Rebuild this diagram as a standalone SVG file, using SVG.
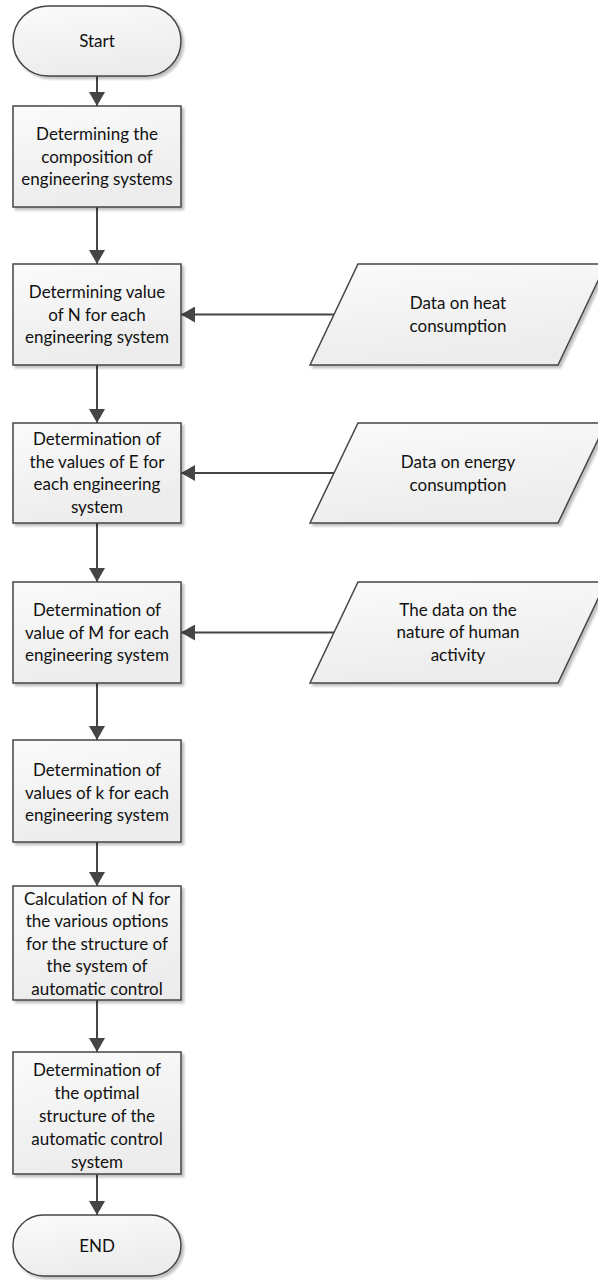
<svg xmlns="http://www.w3.org/2000/svg" width="598" height="1280" viewBox="0 0 598 1280">
<style>
.shape{fill:url(#g);stroke:#454545;stroke-width:1.5;filter:url(#sh)}
.t{font-family:Lato,"Liberation Sans",sans-serif;font-size:17px;fill:#111;text-anchor:middle}
.c{stroke:#454545;stroke-width:2;fill:none;marker-end:url(#arr)}
</style>
<defs>
<linearGradient id="g" x1="0" y1="0" x2="0.3" y2="1">
<stop offset="0" stop-color="#fbfbfb"/>
<stop offset="1" stop-color="#ececec"/>
</linearGradient>
<filter id="sh" x="-10%" y="-10%" width="130%" height="130%">
<feDropShadow dx="2.5" dy="2.5" stdDeviation="1.2" flood-color="#000" flood-opacity="0.25"/>
</filter>
<marker id="arr" viewBox="0 0 14 16" refX="14" refY="8" markerWidth="14" markerHeight="16" orient="auto" markerUnits="userSpaceOnUse">
<path d="M0,0 L14,8 L0,16 Z" fill="#454545"/>
</marker>
</defs>

<g id="connectors">
<path class="c" d="M97,76 V106"/>
<path class="c" d="M97,207 V264"/>
<path class="c" d="M97,365 V423"/>
<path class="c" d="M97,523 V582"/>
<path class="c" d="M97,683 V740"/>
<path class="c" d="M97,842 V886"/>
<path class="c" d="M97,1000 V1052"/>
<path class="c" d="M97,1174 V1215"/>
<path class="c" d="M334,314.5 H181"/>
<path class="c" d="M334,473 H181"/>
<path class="c" d="M334,632.5 H181"/>
</g>

<g id="start">
<rect class="shape" x="13" y="6" width="168" height="70" rx="35"/>
<text class="t" x="97" y="47">Start</text>
</g>

<g id="box1">
<rect class="shape" x="13" y="106" width="168" height="101"/>
<text class="t" x="97" y="140">Determining the</text>
<text class="t" x="97" y="162.5">composition of</text>
<text class="t" x="97" y="185">engineering systems</text>
</g>

<g id="box2">
<rect class="shape" x="13" y="264" width="168" height="101"/>
<text class="t" x="97" y="298">Determining value</text>
<text class="t" x="97" y="320.5">of N for each</text>
<text class="t" x="97" y="343">engineering system</text>
</g>

<g id="data1">
<path class="shape" d="M358,264 H606 L558,365 H310 Z"/>
<text class="t" x="458" y="309">Data on heat</text>
<text class="t" x="458" y="332">consumption</text>
</g>

<g id="box3">
<rect class="shape" x="13" y="423" width="168" height="100"/>
<text class="t" x="97" y="445.25">Determination of</text>
<text class="t" x="97" y="467.75">the values of E for</text>
<text class="t" x="97" y="490.25">each engineering</text>
<text class="t" x="97" y="512.75">system</text>
</g>

<g id="data2">
<path class="shape" d="M358,423 H606 L558,523 H310 Z"/>
<text class="t" x="458" y="467.5">Data on energy</text>
<text class="t" x="458" y="490.5">consumption</text>
</g>

<g id="box4">
<rect class="shape" x="13" y="582" width="168" height="101"/>
<text class="t" x="97" y="616">Determination of</text>
<text class="t" x="97" y="638.5">value of M for each</text>
<text class="t" x="97" y="661">engineering system</text>
</g>

<g id="data3">
<path class="shape" d="M358,582 H606 L558,683 H310 Z"/>
<text class="t" x="458" y="615.5">The data on the</text>
<text class="t" x="458" y="638">nature of human</text>
<text class="t" x="458" y="660.5">activity</text>
</g>

<g id="box5">
<rect class="shape" x="13" y="740" width="168" height="102"/>
<text class="t" x="97" y="776">Determination of</text>
<text class="t" x="97" y="798.5">values of k for each</text>
<text class="t" x="97" y="821">engineering system</text>
</g>

<g id="box6">
<rect class="shape" x="13" y="886" width="168" height="114"/>
<text class="t" x="97" y="904.5">Calculation of N for</text>
<text class="t" x="97" y="927">the various options</text>
<text class="t" x="97" y="949.5">for the structure of</text>
<text class="t" x="97" y="972">the system of</text>
<text class="t" x="97" y="994.5">automatic control</text>
</g>

<g id="box7">
<rect class="shape" x="13" y="1052" width="168" height="122"/>
<text class="t" x="97" y="1076">Determination of</text>
<text class="t" x="97" y="1099">the optimal</text>
<text class="t" x="97" y="1122">structure of the</text>
<text class="t" x="97" y="1145">automatic control</text>
<text class="t" x="97" y="1168">system</text>
</g>

<g id="end">
<rect class="shape" x="13" y="1215" width="168" height="61" rx="30.5"/>
<text class="t" x="97" y="1251.5">END</text>
</g>
</svg>
